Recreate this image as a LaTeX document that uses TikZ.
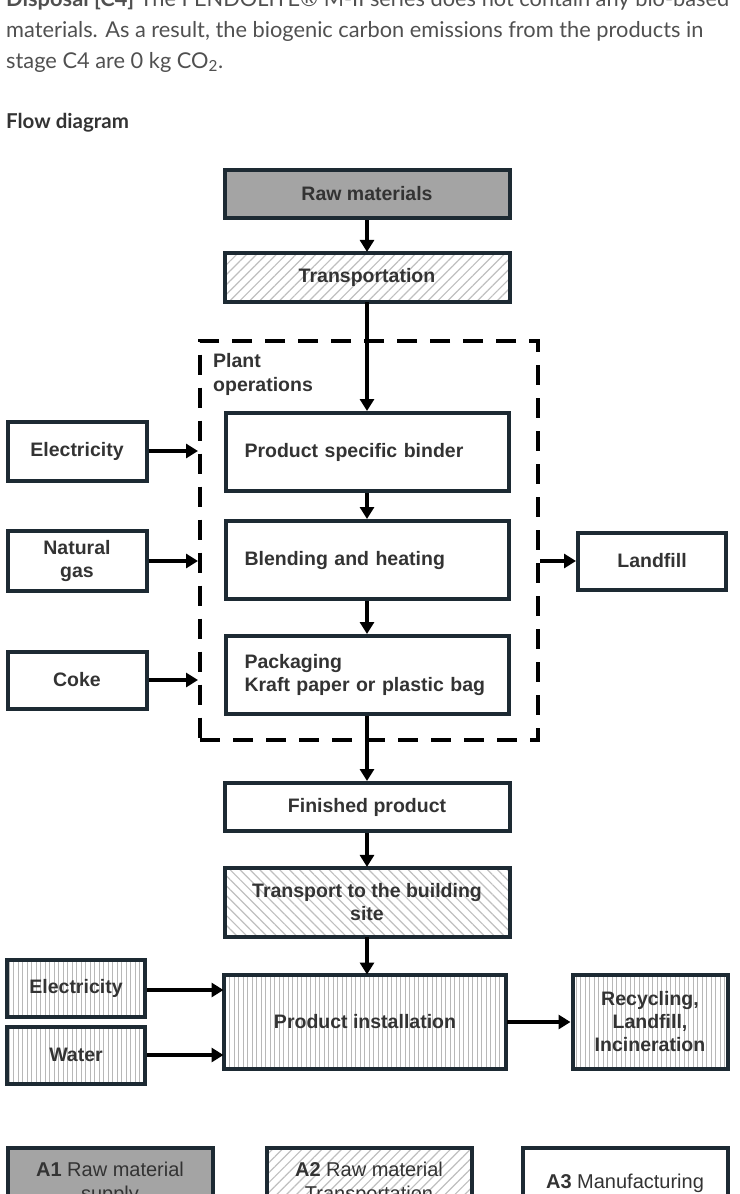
\documentclass[tikz,border=0pt]{standalone}
\usepackage{fontspec}
\setmainfont{Liberation Sans}
\newfontfamily\parafont{Lato}
\usetikzlibrary{arrows.meta,patterns.meta}
\definecolor{boxline}{HTML}{1D2A33}
\definecolor{txt}{HTML}{333333}
\definecolor{paratxt}{HTML}{505050}
\definecolor{rawfill}{HTML}{A4A4A4}
\begin{document}
\begin{tikzpicture}[x=1pt,y=-1pt,
  box/.style={draw=boxline,line width=4pt,text=txt,align=center,inner sep=0pt,
    font=\bfseries\fontsize{19.5}{23}\selectfont},
  stepbox/.style={box,minimum width=283pt,minimum height=78pt,text width=245pt,align=left},
  keybox/.style={box,minimum width=205pt,minimum height=70pt,font=\fontsize{20}{24}\selectfont},
  hatchne/.style={pattern={Lines[angle=45,distance=7pt,line width=1.2pt]},pattern color=black!25},
  hatchnw/.style={pattern={Lines[angle=-45,distance=7pt,line width=1.2pt]},pattern color=black!25},
  hatchv/.style={pattern={Lines[angle=90,distance=4.5pt,line width=1pt]},pattern color=black!28},
  arr/.style={line width=3.5pt,-{Triangle[length=12pt,width=14pt]}},
  para/.style={anchor=base west,inner sep=0pt,text=paratxt,font=\parafont\fontsize{21.8}{26}\selectfont}]
  \useasboundingbox (0,0) rectangle (739,1194);
  % text above the diagram
  \node[para] (line1) at (6,6) {\textbf{Disposal [C4]} The FENDOLITE® M-II series does not contain any bio-based};
  \node[para] (line2) at (6,37) {materials. As a result, the biogenic carbon emissions from the products in};
  \node[para] (line3) at (6,68) {stage C4 are 0 kg CO\textsubscript{2}.};
  \node[para,text=txt,font=\parafont\bfseries\fontsize{20.5}{24}\selectfont] (title) at (6,128) {Flow diagram};
  % main column
  \node[box,fill=rawfill,minimum width=285pt,minimum height=48pt] (raw) at (367,194) {Raw materials};
  \node[box,hatchne,minimum width=285pt,minimum height=49pt] (trans) at (367,277) {Transportation};
  \node[draw,dashed,line width=4pt,dash pattern=on 20pt off 13pt,minimum width=338pt,minimum height=399pt] (plant) at (369,540) {};
  \node[anchor=west,align=left,inner sep=0pt,text=txt,font=\bfseries\fontsize{19.5}{24}\selectfont] (plantlbl) at (213,374) {Plant\\operations};
  \node[stepbox] (binder) at (367,452) {Product specific binder};
  \node[stepbox] (blend) at (367,560) {Blending and heating};
  \node[stepbox] (pack) at (367,675) {Packaging\\Kraft paper or plastic bag};
  \node[box,minimum width=285pt,minimum height=48pt] (finished) at (367,807) {Finished product};
  \node[box,hatchnw,minimum width=285pt,minimum height=69pt] (site) at (367,902) {Transport to the building\\site};
  \node[box,hatchv,minimum width=282pt,minimum height=94pt] (install) at (365,1022) {Product installation};
  % side boxes
  \node[box,minimum width=139pt,minimum height=59pt] (elec) at (77,451) {Electricity};
  \node[box,minimum width=139pt,minimum height=60pt] (gas) at (77,561) {Natural\\gas};
  \node[box,minimum width=139pt,minimum height=57pt] (coke) at (77,680) {Coke};
  \node[box,minimum width=148pt,minimum height=57pt] (landfill) at (652,561) {Landfill};
  \node[box,hatchv,minimum width=138pt,minimum height=57pt] (elec2) at (76,988) {Electricity};
  \node[box,hatchv,minimum width=138pt,minimum height=57pt] (water) at (76,1055) {Water};
  \node[box,hatchv,minimum width=155pt,minimum height=94pt] (recyc) at (650,1022) {Recycling,\\Landfill,\\Incineration};
  % arrows
  \draw[arr] (raw) -- (trans);
  \draw[arr] (trans) -- (binder);
  \draw[arr] (binder) -- (blend);
  \draw[arr] (blend) -- (pack);
  \draw[arr] (pack) -- (finished);
  \draw[arr] (finished) -- (site);
  \draw[arr] (site.south) -- (site.south |- install.north);
  \draw[arr] (elec) -- (elec -| plant.west);
  \draw[arr] (gas) -- (gas -| plant.west);
  \draw[arr] (coke) -- (coke -| plant.west);
  \draw[arr] (landfill -| plant.east) -- (landfill);
  \draw[arr] (elec2.east) ++(0,2) -- (install.west |- 0,990);
  \draw[arr] (water.east) -- (water.east -| install.west);
  \draw[arr] (install) -- (recyc);
  % key
  \node[keybox,fill=rawfill] (keyA) at (110,1183) {\textbf{A1} Raw material\\supply};
  \node[keybox,hatchne] (keyB) at (369,1183) {\textbf{A2} Raw material\\Transportation};
  \node[keybox] (keyC) at (625,1183) {\textbf{A3} Manufacturing};
\end{tikzpicture}
\end{document}
